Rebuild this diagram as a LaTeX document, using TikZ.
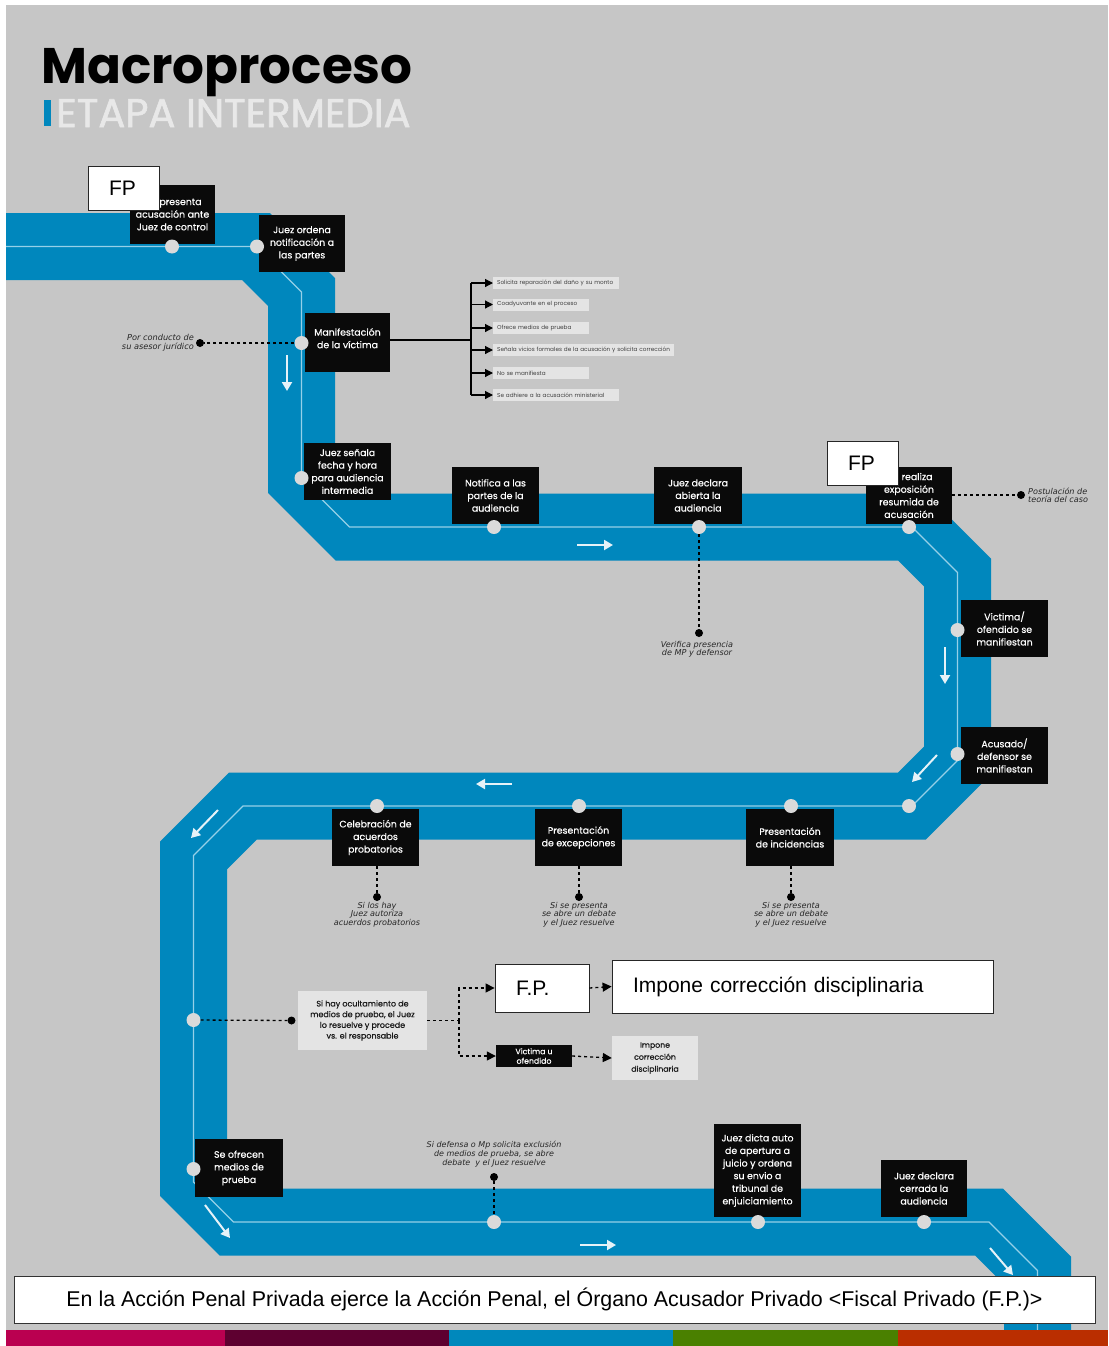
\documentclass[tikz,border=0pt]{standalone}
\usepackage{fontspec}
\setmainfont{Poppins}
\newfontfamily\arialfont{Liberation Sans}
\newfontfamily\handfont{DejaVu Sans}
\newfontfamily\medfont{Poppins}[FakeBold=0.5]
\newfontfamily\subfont{Poppins}[FakeBold=1.6]
\usetikzlibrary{arrows.meta}

\definecolor{bggray}{RGB}{198,198,198}
\definecolor{bandblue}{RGB}{0,135,189}
\definecolor{thinblue}{RGB}{150,208,232}
\definecolor{dotgray}{RGB}{218,218,218}
\definecolor{boxblack}{RGB}{10,10,10}
\definecolor{optgray}{RGB}{228,228,228}
\definecolor{titlegray}{RGB}{232,232,232}
\definecolor{flowwhite}{RGB}{230,242,248}
\definecolor{barmagenta}{RGB}{186,0,80}
\definecolor{barpurple}{RGB}{94,0,48}
\definecolor{barblue}{RGB}{0,136,188}
\definecolor{bargreen}{RGB}{74,128,0}
\definecolor{barred}{RGB}{186,46,0}

\newcommand{\boxfnt}{\medfont\fontsize{9.4}{12.6}\selectfont}
\newcommand{\handfnt}{\handfont\itshape\fontsize{8.1}{8.6}\selectfont}

\tikzset{
  stepbox/.style={fill=boxblack, text=white, font=\boxfnt, align=center, inner sep=0pt},
  waydot/.style={circle, fill=dotgray, minimum size=14pt, inner sep=0pt},
  inkdot/.style={circle, fill=black, minimum size=8pt, inner sep=0pt},
  optbox/.style={fill=optgray, text=black!75, font=\fontsize{5.7}{6}\selectfont, align=left, anchor=west, inner xsep=4pt, inner ysep=0pt, minimum height=12pt},
  notebox/.style={fill=optgray, text=black!90, align=center, inner sep=0pt},
  fpbox/.style={draw=black!85, line width=0.8pt, fill=white, font=\arialfont\fontsize{21}{21}\selectfont, align=left, inner xsep=21pt, inner ysep=0pt},
  handnote/.style={font=\handfnt, align=center, inner sep=0pt, text=black!85},
  dotline/.style={black, line width=1.3pt, dash pattern=on 3pt off 3pt},
  dotarrow/.style={dotline, -{Triangle[length=9pt,width=9pt]}},
  busarrow/.style={black, line width=1.2pt, -{Triangle[length=8pt,width=8pt]}},
  flowarrow/.style={draw=flowwhite, line width=2pt, -{Triangle[length=9pt,width=10pt]}},
}

\begin{document}
\begin{tikzpicture}[x=1pt,y=-1pt]
\useasboundingbox (0,0) rectangle (1108,1346);
\fill[white] (0,0) rectangle (1108,1346);
\fill[bggray] (6,5) rectangle (1108,1330);

% heading
\node[anchor=base west, inner sep=0pt, font=\bfseries\fontsize{50}{50}\selectfont] (title) at (41,83) {Macroproceso};
\fill[bandblue] (44,100) rectangle (51,126);
\node[anchor=base west, inner sep=0pt, text=titlegray, font=\subfont\fontsize{40}{40}\selectfont] (subtitle) at (56,127) {ETAPA INTERMEDIA};

% the track
\def\trackpath{(6,246.5) -- (256,246.5) -- (301.5,292) -- (301.5,479) -- (349.5,527) -- (912,527) -- (957.5,572.5) -- (957.5,760.5) -- (912,806) -- (243,806) -- (193.5,855.5) -- (193.5,1182) -- (233.5,1222) -- (989,1222) -- (1037.5,1270.5) -- (1037.5,1346)}
\draw[bandblue, line width=67pt, line join=miter] \trackpath;
\draw[thinblue, line width=1.2pt, line join=miter] \trackpath;

% direction marks on the track
\draw[flowarrow] (287,355) -- (287,391);
\draw[flowarrow] (577,545) -- (613,545);
\draw[flowarrow] (945,647) -- (945,684);
\draw[flowarrow] (937,755) -- (912,782);
\draw[flowarrow] (512,784) -- (476,784);
\draw[flowarrow] (218,810) -- (191,838);
\draw[flowarrow] (205,1205) -- (230,1238);
\draw[flowarrow] (580,1245) -- (616,1245);
\draw[flowarrow] (990,1248) -- (1013,1275);

% steps
\node[stepbox, minimum width=85pt, minimum height=59pt] (b1) at (172.5,214.5) {\hphantom{MP }presenta\\acusación ante\\Juez de control};
\node[stepbox, minimum width=86pt, minimum height=57pt] (b2) at (302,243.5) {Juez ordena\\notificación a\\las partes};
\node[stepbox, minimum width=85pt, minimum height=59pt] (b3) at (347.5,342.5) {Manifestación\\de la víctima\\[-4pt]\mbox{}};
\node[stepbox, minimum width=87pt, minimum height=57pt] (b4) at (347.5,471.5) {Juez señala\\fecha y hora\\para audiencia\\intermedia};
\node[stepbox, minimum width=87pt, minimum height=57pt] (b5) at (495.5,495.5) {Notifica a las\\partes de la\\audiencia};
\node[stepbox, minimum width=88pt, minimum height=57pt] (b6) at (698,495.5) {Juez declara\\abierta la\\audiencia};
\node[stepbox, minimum width=86pt, minimum height=57pt] (b7) at (909,495.5) {\hphantom{MP }realiza\\exposición\\resumida de\\acusación};
\node[stepbox, minimum width=87pt, minimum height=57pt] (b8) at (1004.5,628.5) {Victima/\\ofendido se\\manifiestan};
\node[stepbox, minimum width=87pt, minimum height=57pt] (b9) at (1004.5,755.5) {Acusado/\\defensor se\\manifiestan};
\node[stepbox, minimum width=87pt, minimum height=57pt] (b10) at (375.5,837.5) {Celebración de\\acuerdos\\probatorios};
\node[stepbox, minimum width=87pt, minimum height=57pt] (b11) at (578.5,837.5) {Presentación\\de excepciones};
\node[stepbox, minimum width=88pt, minimum height=57pt] (b12) at (790,837.5) {Presentación\\de incidencias};
\node[stepbox, minimum width=76pt, minimum height=22pt, font=\medfont\fontsize{7.8}{9.5}\selectfont] (b13) at (534,1056) {Victima u\\ofendido};
\node[stepbox, minimum width=88pt, minimum height=58pt] (b14) at (239,1168) {Se ofrecen\\medios de\\prueba};
\node[stepbox, minimum width=87pt, minimum height=93pt] (b15) at (757.5,1170.5) {Juez dicta auto\\de apertura a\\juicio y ordena\\su envio a\\tribunal de\\enjuiciamiento};
\node[stepbox, minimum width=86pt, minimum height=57pt] (b16) at (924,1188.5) {Juez declara\\cerrada la\\audiencia};

% white labels
\node[fpbox, text width=29pt, minimum height=44pt] (fp1) at (123.5,188) {FP};
\node[fpbox, text width=29pt, minimum height=44pt] (fp2) at (862.5,463) {FP};
\node[fpbox, text width=52pt, minimum height=48pt] (fp3) at (542,988) {F.P.};
\node[fpbox, text width=339pt, minimum height=53pt] (imp1) at (802.5,986.5) {Impone corrección disciplinaria};

% options of the victim
\node[optbox, text width=118pt] (o1) at (493,283) {Solicita reparación del daño y su monto};
\node[optbox, text width=88pt] (o2) at (493,304.5) {Coadyuvante en el  proceso};
\node[optbox, text width=88pt] (o3) at (493,328) {Ofrece medios de prueba};
\node[optbox, text width=173pt] (o4) at (493,350) {Señala vicios formales de la acusación y solicita corrección};
\node[optbox, text width=88pt] (o5) at (493,373) {No se manifiesta};
\node[optbox, text width=118pt] (o6) at (493,395) {Se adhiere a la acusación ministerial};
\coordinate (bus) at (471,340);
\draw[black, line width=1.2pt] (b3.east |- bus) -- (bus);
\draw[black, line width=1.2pt] (bus |- o1.west) -- (bus |- o6.west);
\foreach \o in {o1,o2,o3,o4,o5,o6}
  \draw[busarrow] (bus |- \o.west) -- (\o.west);

% grey notes
\node[notebox, minimum width=129pt, minimum height=59pt, font=\medfont\fontsize{8}{10.7}\selectfont] (hide) at (362.5,1020.5) {Si hay ocultamiento de\\medios de prueba, el Juez\\lo resuelve y procede\\vs. el responsable};
\node[notebox, minimum width=86pt, minimum height=44pt, font=\medfont\fontsize{7.8}{12}\selectfont] (imp2) at (655,1058) {Impone\\corrección\\disciplinaria};

% stops on the track
\node[waydot] (d1) at (172,246.5) {};
\node[waydot] (d2) at (257,246.5) {};
\node[waydot] (d3) at (301.5,343) {};
\node[waydot] (d4) at (301.5,478) {};
\node[waydot] (d5) at (494,527) {};
\node[waydot] (d6) at (699,527) {};
\node[waydot] (d7) at (909,527) {};
\node[waydot] (d8) at (957.5,630) {};
\node[waydot] (d9) at (957.5,754) {};
\node[waydot] (d10) at (909,806) {};
\node[waydot] (d11) at (579,806) {};
\node[waydot] (d12) at (377,806) {};
\node[waydot] (d13) at (791,806) {};
\node[waydot] (d14) at (193.5,1020) {};
\node[waydot] (d15) at (193.5,1169) {};
\node[waydot] (d16) at (494,1222) {};
\node[waydot] (d17) at (758,1222) {};
\node[waydot] (d18) at (924,1222) {};

% side notes
\node[inkdot] (pc) at (200,343) {};
\node[handnote, anchor=east, align=right, font=\handfont\itshape\fontsize{8.2}{9}\selectfont] (pcnote) at (194,343) {Por conducto de\\su asesor jurídico};
\draw[dotline] (d3) -- (pc);

\node[inkdot] (ver) at (699,633) {};
\node[handnote, anchor=north] (vernote) at (697,641) {Verifica presencia\\de MP y defensor};
\draw[dotline] (d6) -- (ver);

\node[inkdot] (post) at (1021,495) {};
\node[handnote, anchor=west, align=left] (postnote) at (1028,495.5) {Postulación de\\teoría del caso};
\draw[dotline] (b7.east |- post) -- (post);

\node[inkdot] (a1) at (377,897) {};
\node[inkdot] (a2) at (579,897) {};
\node[inkdot] (a3) at (791,897) {};
\draw[dotline] (b10.south -| a1) -- (a1);
\draw[dotline] (b11.south -| a2) -- (a2);
\draw[dotline] (b12.south -| a3) -- (a3);
\node[handnote, anchor=north] (n1) at (377,902) {Si los hay\\Juez autoriza\\acuerdos probatorios};
\node[handnote, anchor=north] (n2) at (579,902) {Si se presenta\\se abre un debate\\y el Juez resuelve};
\node[handnote, anchor=north] (n3) at (791,902) {Si se presenta\\se abre un debate\\y el Juez resuelve};

\node[inkdot] (oc) at (291.5,1020.5) {};
\draw[dotline] (d14) -- (oc);
\coordinate (fork) at (459,1020.5);
\draw[dotline] (hide.east) -- (fork);
\draw[dotarrow] (fork) |- (fp3.west);
\draw[dotarrow] (fork) |- (b13.west);
\draw[dotarrow] (fp3.east) -- (imp1.west);
\draw[dotarrow] (b13.east) -- (imp2.west);

\node[inkdot] (excl) at (494,1177) {};
\node[handnote, anchor=south, font=\handfont\itshape\fontsize{8}{7.6}\selectfont] (exclnote) at (494,1167) {Si defensa o Mp solicita exclusión\\de medios de prueba, se abre\\debate \ y el Juez resuelve};
\draw[dotline] (excl) -- (d16);

% footer
\node[draw=black!80, line width=0.8pt, fill=white, minimum width=1081pt, minimum height=47pt, inner sep=0pt, font=\arialfont\fontsize{21.4}{22}\selectfont] (caption) at (554.5,1299.5) {En la Acción Penal Privada ejerce la Acción Penal, el Órgano Acusador Privado <Fiscal Privado (F.P.)>};
\fill[barmagenta] (6,1330) rectangle (225,1346);
\fill[barpurple] (225,1330) rectangle (449,1346);
\fill[barblue] (449,1330) rectangle (673,1346);
\fill[bargreen] (673,1330) rectangle (898,1346);
\fill[barred] (898,1330) rectangle (1108,1346);
\end{tikzpicture}
\end{document}
